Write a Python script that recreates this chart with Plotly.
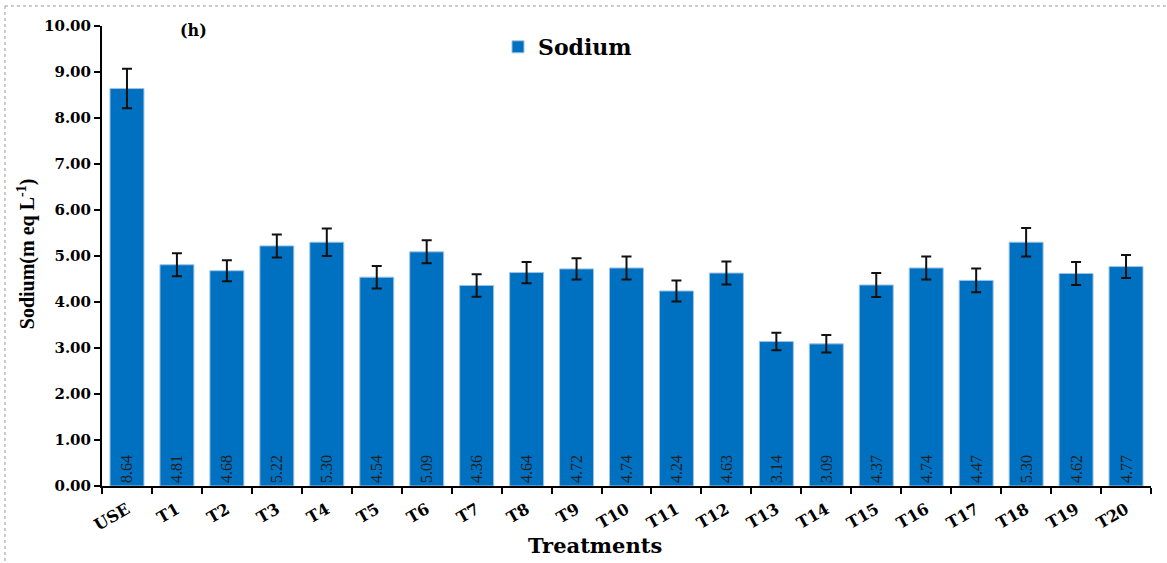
import plotly.graph_objects as go

categories = ["USE", "T1", "T2", "T3", "T4", "T5", "T6", "T7", "T8", "T9", "T10",
              "T11", "T12", "T13", "T14", "T15", "T16", "T17", "T18", "T19", "T20"]
sodium = [8.64, 4.81, 4.68, 5.22, 5.30, 4.54, 5.09, 4.36, 4.64, 4.72, 4.74,
          4.24, 4.63, 3.14, 3.09, 4.37, 4.74, 4.47, 5.30, 4.62, 4.77]
errors = [0.43, 0.25, 0.23, 0.25, 0.30, 0.245, 0.25, 0.245, 0.23, 0.23, 0.25,
          0.23, 0.25, 0.19, 0.19, 0.26, 0.25, 0.26, 0.31, 0.25, 0.25]
labels = [f"{v:.2f}" for v in sodium]
y_ticks = [0, 1, 2, 3, 4, 5, 6, 7, 8, 9, 10]
y_ticktext = [f"{t:.2f}" for t in y_ticks]

WIDE = "DejaVu Serif"       # wide serif mimics the horizontally stretched Times text
TIMES = "Liberation Serif"

fig = go.Figure()
fig.add_trace(go.Bar(
    x=categories, y=sodium, name="Sodium",
    marker=dict(color="#0070C0", line=dict(color="#9DC3E6", width=1)),
    error_y=dict(type="data", array=errors, visible=True, color="#111111",
                 thickness=2, width=5),
    text=labels, textposition="inside", insidetextanchor="start",
    textangle=-90, constraintext="none",
    textfont=dict(family=TIMES, size=16, color="#222222"),
    insidetextfont=dict(family=TIMES, size=16, color="#222222"),
))

fig.update_layout(
    width=1167, height=563,
    paper_bgcolor="white", plot_bgcolor="white",
    margin=dict(l=102, r=16, t=26, b=77),
    bargap=0.32,
    font=dict(family=WIDE, color="black"),
    showlegend=True,
    legend=dict(x=0.3775, y=1.0, xanchor="left", yanchor="top",
                font=dict(family=WIDE, size=22, color="black", weight="bold"),
                bgcolor="rgba(0,0,0,0)", itemwidth=30),
    xaxis=dict(
        showline=True, linecolor="black", linewidth=2,
        ticks="outside", tickson="boundaries", ticklen=6, tickwidth=2,
        tickcolor="black", tickangle=-30, ticklabelstandoff=6,
        tickfont=dict(family=WIDE, size=16, color="black", weight="bold"),
        showgrid=False,
    ),
    yaxis=dict(
        range=[0, 10], tickvals=y_ticks, ticktext=y_ticktext,
        showline=True, linecolor="black", linewidth=2,
        ticks="outside", ticklen=6, tickwidth=2, tickcolor="black",
        tickfont=dict(family=WIDE, size=15, color="black", weight="bold"),
        showgrid=False, zeroline=False,
    ),
    annotations=[
        dict(text="(h)", x=0.0877, y=0.991, xref="paper", yref="paper",
             xanchor="center", yanchor="middle", showarrow=False,
             font=dict(family=WIDE, size=16, color="black", weight="bold")),
        dict(text="Treatments", x=0.470, y=-0.130, xref="paper", yref="paper",
             xanchor="center", yanchor="middle", showarrow=False,
             font=dict(family=WIDE, size=21, color="black", weight="bold")),
        dict(text="Sodium(m eq L<sup>-1</sup>)", x=-0.0724, y=0.504,
             xref="paper", yref="paper", textangle=-90,
             xanchor="center", yanchor="middle", showarrow=False,
             font=dict(family=TIMES, size=20, color="black", weight="bold")),
    ],
    shapes=[
        dict(type="line", xref="paper", yref="paper",
             x0=-0.0925, x1=1.02, y0=1.0435, y1=1.0435,
             line=dict(color="#999999", width=1, dash="dot")),
        dict(type="line", xref="paper", yref="paper",
             x0=-0.0925, x1=-0.0925, y0=1.0435, y1=-0.17,
             line=dict(color="#999999", width=1, dash="dot")),
    ],
)

fig.write_html("out.html", config={"displayModeBar": False},
               post_script="document.body.style.margin='0px';")
